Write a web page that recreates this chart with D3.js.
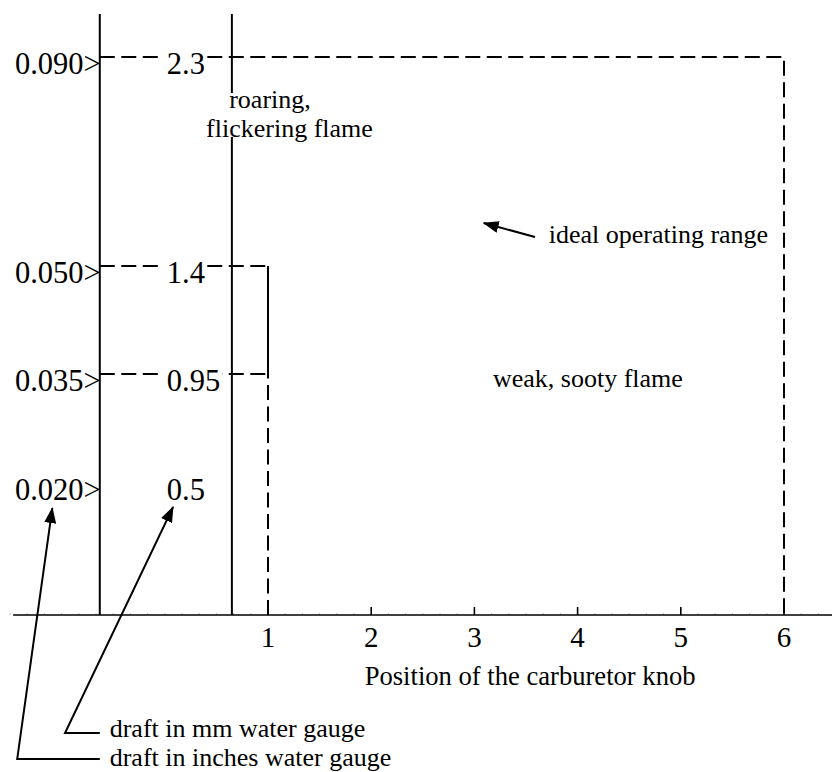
<!DOCTYPE html>
<html>
<head>
<meta charset="utf-8">
<script src="https://cdn.jsdelivr.net/npm/d3@7"></script>
<style>
  body { margin: 0; background: #fff; }
  svg text { font-family: "Liberation Serif", "Times New Roman", serif; fill: #000; }
</style>
</head>
<body>
<div id="chart"></div>
<script>
// draft levels
var inchLabels = ["0.090", "0.050", "0.035", "0.020"];
var mmLevels = [2.3, 1.4, 0.95, 0.5];
var knobTicks = [1, 2, 3, 4, 5, 6];

var width = 832, height = 772;

var svg = d3.select("#chart").append("svg")
  .attr("width", width)
  .attr("height", height);

svg.append("rect").attr("width", width).attr("height", height).attr("fill", "#fff");

svg.append("defs").append("marker")
  .attr("id", "head")
  .attr("viewBox", "0 0 16 12")
  .attr("refX", 15)
  .attr("refY", 6)
  .attr("markerWidth", 16)
  .attr("markerHeight", 12)
  .attr("markerUnits", "userSpaceOnUse")
  .attr("orient", "auto")
  .append("path")
  .attr("d", "M0,0L16,6L0,12Z")
  .attr("fill", "#000");

// knob position on x, draft in mm on y (schematic, piecewise)
var x = d3.scaleLinear()
  .domain([1, 6])
  .range([268, 784]);

var y = d3.scaleLinear()
  .domain([0, 0.5, 0.95, 1.4, 2.3])
  .range([615, 483, 374, 266, 57]);

var gaugeX = -0.63;   // left frame line (inch column)
var mmX = 0.65;       // second frame line (mm column)
var topY = 2.485;
var dash = "15,6.5";

var line = d3.line()
  .x(function(d){ return x(d[0]); })
  .y(function(d){ return y(d[1]); });

// x axis with minor ticks
var xAxis = svg.append("g")
  .attr("class", "axis axis--x");

xAxis.selectAll(".minor")
  .data(d3.range(-9, 40).map(function(i){ return i / 6; }))
  .enter().append("line")
  .attr("class", "minor")
  .attr("x1", function(d){ return x(d); })
  .attr("x2", function(d){ return x(d); })
  .attr("y1", y(0))
  .attr("y2", y(0) - 2)
  .attr("stroke", "#bbb")
  .attr("stroke-width", 1);

xAxis.append("line")
  .attr("x1", x(-1.47)).attr("x2", width)
  .attr("y1", y(0)).attr("y2", y(0))
  .attr("stroke", "#000")
  .attr("stroke-width", 1.6);

xAxis.selectAll(".tick")
  .data(knobTicks)
  .enter().append("line")
  .attr("class", "tick")
  .attr("x1", function(d){ return x(d); })
  .attr("x2", function(d){ return x(d); })
  .attr("y1", y(0))
  .attr("y2", y(0) - 8)
  .attr("stroke", "#000")
  .attr("stroke-width", 1.6);

xAxis.selectAll(".tick-label")
  .data(knobTicks)
  .enter().append("text")
  .attr("class", "tick-label")
  .attr("text-anchor", "middle")
  .attr("x", function(d){ return x(d); })
  .attr("y", y(0) + 32)
  .style("font-size", "29px")
  .text(function(d){ return d; });

xAxis.append("text")
  .attr("text-anchor", "middle")
  .attr("x", x(3.54))
  .attr("y", y(0) + 70)
  .style("font-size", "26.6px")
  .text("Position of the carburetor knob");

// solid frame lines
svg.append("path")
  .attr("d", line([[gaugeX, topY], [gaugeX, 0]]))
  .attr("stroke", "#000").attr("stroke-width", 2).attr("fill", "none");

[[topY, 2.145], [1.955, 0]].forEach(function(seg){
  svg.append("path")
    .attr("d", line([[mmX, seg[0]], [mmX, seg[1]]]))
    .attr("stroke", "#000").attr("stroke-width", 2).attr("fill", "none");
});

// ideal operating range box and the 1.4 / 0.95 bracket
svg.append("path")
  .attr("d", line([[gaugeX, mmLevels[0]], [6, mmLevels[0]], [6, 0]]))
  .attr("stroke", "#000").attr("stroke-width", 2)
  .attr("stroke-dasharray", dash).attr("fill", "none");

[mmLevels[1], mmLevels[2]].forEach(function(lvl){
  svg.append("path")
    .attr("d", line([[gaugeX, lvl], [1, lvl]]))
    .attr("stroke", "#000").attr("stroke-width", 2)
    .attr("stroke-dasharray", dash).attr("fill", "none");
});

svg.append("path")
  .attr("d", line([[1, mmLevels[1]], [1, mmLevels[2]]]))
  .attr("stroke", "#000").attr("stroke-width", 2).attr("fill", "none");

svg.append("path")
  .attr("d", line([[1, 0], [1, mmLevels[2]]]))
  .attr("stroke", "#000").attr("stroke-width", 2)
  .attr("stroke-dasharray", dash).attr("fill", "none");

// level labels
var rows = svg.selectAll(".row")
  .data(mmLevels)
  .enter().append("g")
  .attr("class", "row");

rows.append("text")
  .attr("class", "inch")
  .attr("text-anchor", "end")
  .attr("x", x(gaugeX) + 1)
  .attr("y", function(d){ return y(d) + 17; })
  .style("font-size", "30.5px")
  .text(function(d, i){ return inchLabels[i] + ">"; });

rows.append("text")
  .attr("class", "mm")
  .attr("x", x(0) + 2)
  .attr("y", function(d){ return y(d) + 17; })
  .style("font-size", "30.5px")
  .text(function(d){ return d; });

rows.each(function(){
  var t = d3.select(this).select(".mm");
  var b = t.node().getBBox();
  d3.select(this).insert("rect", ".mm")
    .attr("x", b.x - 3).attr("y", b.y)
    .attr("width", b.width + 5).attr("height", b.height)
    .attr("fill", "#fff");
});

// annotations
var notes = [
  { text: "roaring,", at: [0.624, 2.08] },
  { text: "flickering flame", at: [0.40, 1.955] },
  { text: "ideal operating range", at: [3.72, 1.499] },
  { text: "weak, sooty flame", at: [3.18, 0.896] },
  { text: "draft in mm water gauge", at: [-0.534, -0.462] },
  { text: "draft in inches water gauge", at: [-0.534, -0.572] }
];

svg.selectAll(".note")
  .data(notes)
  .enter().append("text")
  .attr("class", "note")
  .attr("x", function(d){ return x(d.at[0]); })
  .attr("y", function(d){ return y(d.at[1]); })
  .style("font-size", "26px")
  .text(function(d){ return d.text; });

var pointers = [
  [[3.587, 1.525], [3.09, 1.585]],
  [[gaugeX, -0.447], [-0.967, -0.447], [0.08, 0.409]],
  [[gaugeX, -0.545], [-1.43, -0.545], [-1.09, 0.405]]
];

svg.selectAll(".pointer")
  .data(pointers)
  .enter().append("path")
  .attr("class", "pointer")
  .attr("d", line)
  .attr("stroke", "#000")
  .attr("stroke-width", 2)
  .attr("fill", "none")
  .attr("marker-end", "url(#head)");
</script>
</body>
</html>
